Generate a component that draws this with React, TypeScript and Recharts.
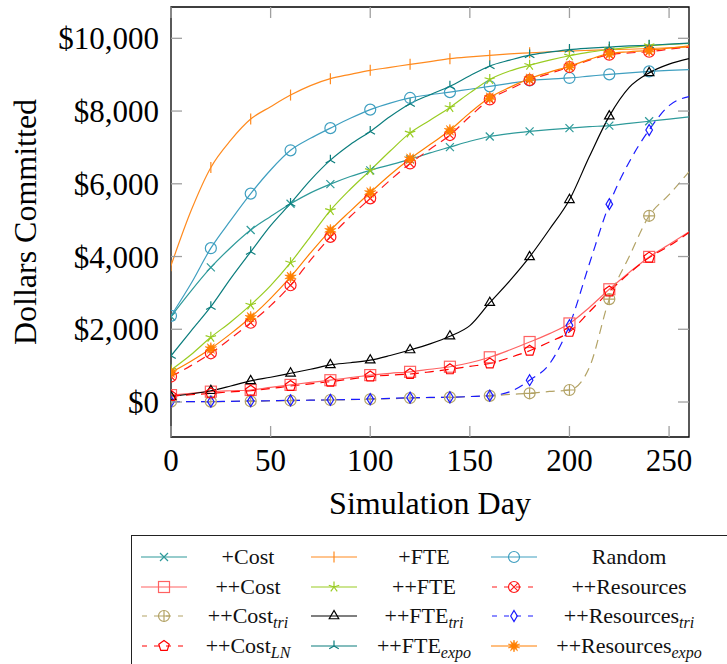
import React from "react";
import { LineChart, Line, XAxis, YAxis, ReferenceArea } from "recharts";

// simulation days (every 10 days)
const days = [0, 10, 20, 30, 40, 50, 60, 70, 80, 90, 100, 110, 120, 130, 140, 150, 160, 170, 180, 190, 200, 210, 220, 230, 240, 250, 260];

const plusCost = [2350, 3050, 3700, 4250, 4730, 5100, 5450, 5750, 5990, 6200, 6370, 6520, 6670, 6850, 7010, 7170, 7300, 7380, 7440, 7490, 7530, 7570, 7600, 7660, 7720, 7780, 7840];
const plusFte = [3750, 5250, 6450, 7200, 7780, 8120, 8440, 8700, 8890, 9010, 9120, 9200, 9285, 9360, 9440, 9490, 9530, 9570, 9600, 9630, 9650, 9670, 9690, 9700, 9720, 9740, 9760];
const random = [2370, 3250, 4230, 5000, 5730, 6380, 6920, 7250, 7530, 7800, 8040, 8220, 8360, 8450, 8520, 8600, 8680, 8760, 8840, 8880, 8910, 8960, 9010, 9050, 9090, 9120, 9140];
const ppCost = [190, 240, 285, 310, 330, 400, 470, 540, 600, 670, 740, 790, 830, 900, 970, 1080, 1230, 1430, 1650, 1880, 2160, 2600, 3100, 3560, 3990, 4330, 4680];
const ppFte = [880, 1300, 1780, 2200, 2670, 3200, 3830, 4550, 5270, 5850, 6370, 6900, 7400, 7750, 8100, 8500, 8870, 9100, 9260, 9400, 9520, 9620, 9690, 9750, 9800, 9830, 9860];
const ppRes = [700, 1000, 1340, 1750, 2180, 2650, 3210, 3900, 4540, 5100, 5600, 6100, 6560, 6950, 7340, 7850, 8320, 8600, 8850, 9030, 9210, 9400, 9550, 9600, 9630, 9700, 9760];
const ppCostTri = [10, 10, 10, 15, 20, 30, 40, 50, 55, 65, 75, 90, 110, 120, 130, 150, 170, 210, 240, 290, 330, 950, 2830, 4000, 5120, 5700, 6330];
const ppFteTri = [150, 220, 310, 440, 580, 680, 790, 900, 1020, 1080, 1150, 1280, 1430, 1600, 1810, 2100, 2730, 3330, 3990, 4750, 5560, 6750, 7860, 8650, 9050, 9290, 9440];
const ppResTri = [10, 10, 10, 20, 25, 35, 45, 50, 60, 70, 80, 100, 120, 125, 130, 150, 175, 280, 600, 1050, 2110, 3800, 5440, 6600, 7480, 8150, 8400];
const ppCostLN = [170, 200, 240, 280, 310, 370, 440, 500, 560, 630, 700, 740, 770, 830, 900, 980, 1060, 1220, 1410, 1650, 1930, 2480, 3040, 3540, 3970, 4290, 4660];
const ppFteExpo = [1270, 1950, 2620, 3400, 4130, 4850, 5460, 6100, 6650, 7080, 7440, 7850, 8200, 8450, 8680, 8970, 9240, 9400, 9540, 9620, 9690, 9730, 9760, 9790, 9810, 9840, 9870];
const ppResExpo = [810, 1120, 1470, 1880, 2330, 2850, 3440, 4100, 4720, 5250, 5760, 6250, 6690, 7080, 7470, 7950, 8370, 8650, 8890, 9070, 9230, 9420, 9580, 9630, 9670, 9730, 9790];

const xTicks = [0, 50, 100, 150, 200, 250];
const yTicks = [0, 2000, 4000, 6000, 8000, 10000];

type Mark =
  | "x" | "bar" | "circle" | "square" | "star" | "otimes" | "oplus"
  | "triangle" | "diamond" | "pentagon" | "mercedes" | "burst";

interface Series {
  key: string;
  label: string;
  sub?: string;
  values: number[];
  color: string;
  dashed: boolean;
  mark: Mark;
}

const series: Series[] = [
  { key: "plusCost", label: "+Cost", values: plusCost, color: "#2e9a9a", dashed: false, mark: "x" },
  { key: "plusFte", label: "+FTE", values: plusFte, color: "#ff8a1e", dashed: false, mark: "bar" },
  { key: "random", label: "Random", values: random, color: "#3f9fc0", dashed: false, mark: "circle" },
  { key: "ppCost", label: "++Cost", values: ppCost, color: "#ff6262", dashed: false, mark: "square" },
  { key: "ppFte", label: "++FTE", values: ppFte, color: "#99cc22", dashed: false, mark: "star" },
  { key: "ppRes", label: "++Resources", values: ppRes, color: "#ff1a1a", dashed: true, mark: "otimes" },
  { key: "ppCostTri", label: "++Cost", sub: "tri", values: ppCostTri, color: "#b3a366", dashed: true, mark: "oplus" },
  { key: "ppFteTri", label: "++FTE", sub: "tri", values: ppFteTri, color: "#000000", dashed: false, mark: "triangle" },
  { key: "ppResTri", label: "++Resources", sub: "tri", values: ppResTri, color: "#1a1aff", dashed: true, mark: "diamond" },
  { key: "ppCostLN", label: "++Cost", sub: "LN", values: ppCostLN, color: "#ff0000", dashed: true, mark: "pentagon" },
  { key: "ppFteExpo", label: "++FTE", sub: "expo", values: ppFteExpo, color: "#0b7d7d", dashed: false, mark: "mercedes" },
  { key: "ppResExpo", label: "++Resources", sub: "expo", values: ppResExpo, color: "#ff7f00", dashed: false, mark: "burst" },
];

const rows = days.map((day, i) => {
  const row: Record<string, number> = { day };
  series.forEach((s) => (row[s.key] = s.values[i]));
  return row;
});

const PLOT = { left: 171, right: 689, top: 7, bottom: 437 };
const TICK_LEN = 11;
const FONT = '"Liberation Serif", "Times New Roman", serif';
const DASH = "9 6";

const polar = (cx: number, cy: number, r: number, deg: number) => {
  const a = (deg * Math.PI) / 180;
  return [cx + r * Math.cos(a), cy - r * Math.sin(a)];
};

const spokes = (cx: number, cy: number, r: number, angles: number[]) =>
  angles.map((a) => {
    const [x, y] = polar(cx, cy, r, a);
    return `M${cx},${cy}L${x},${y}`;
  }).join("");

const polygon = (cx: number, cy: number, r: number, n: number) =>
  Array.from({ length: n }, (_, k) => polar(cx, cy, r, 90 + (360 / n) * k).join(",")).join(" ");

const MarkShape = ({ kind, cx, cy, color }: { kind: Mark; cx: number; cy: number; color: string }) => {
  const r = 5.5;
  const p = { stroke: color, strokeWidth: 1.2, fill: "none" };
  switch (kind) {
    case "x": {
      const d = 4;
      return <path d={`M${cx - d},${cy - d}L${cx + d},${cy + d}M${cx - d},${cy + d}L${cx + d},${cy - d}`} {...p} />;
    }
    case "bar":
      return <path d={`M${cx},${cy - r}L${cx},${cy + r}`} {...p} />;
    case "circle":
      return <circle cx={cx} cy={cy} r={r} {...p} />;
    case "square":
      return <rect x={cx - r} y={cy - r} width={2 * r} height={2 * r} {...p} />;
    case "star":
      return <path d={spokes(cx, cy, r, [90, 162, 234, 306, 18])} {...p} />;
    case "otimes": {
      const d = r * 0.707;
      return (
        <g {...p}>
          <circle cx={cx} cy={cy} r={r} />
          <path d={`M${cx - d},${cy - d}L${cx + d},${cy + d}M${cx - d},${cy + d}L${cx + d},${cy - d}`} />
        </g>
      );
    }
    case "oplus":
      return (
        <g {...p}>
          <circle cx={cx} cy={cy} r={r} />
          <path d={`M${cx - r},${cy}L${cx + r},${cy}M${cx},${cy - r}L${cx},${cy + r}`} />
        </g>
      );
    case "triangle":
      return <polygon points={polygon(cx, cy, r, 3)} {...p} />;
    case "diamond":
      return <polygon points={`${cx},${cy - r} ${cx + r * 0.6},${cy} ${cx},${cy + r} ${cx - r * 0.6},${cy}`} {...p} />;
    case "pentagon":
      return <polygon points={polygon(cx, cy, r, 5)} {...p} />;
    case "mercedes":
      return <path d={spokes(cx, cy, r, [90, 210, 330])} {...p} />;
    case "burst": {
      const pts = Array.from({ length: 20 }, (_, k) =>
        polar(cx, cy, k % 2 === 0 ? 6 : 2.6, 90 + 18 * k).join(",")
      ).join(" ");
      return <polygon points={pts} fill={color} stroke={color} strokeWidth={0.6} />;
    }
  }
  return null;
};

const XTick = (props: any) => {
  const { x, payload } = props;
  return (
    <g>
      <line x1={x} x2={x} y1={PLOT.bottom} y2={PLOT.bottom - TICK_LEN} stroke="#a0a0a0" strokeWidth={1.3} />
      <line x1={x} x2={x} y1={PLOT.top} y2={PLOT.top + TICK_LEN} stroke="#a0a0a0" strokeWidth={1.3} />
      <text x={x} y={471} textAnchor="middle" fontFamily={FONT} fontSize={31} fill="#000">
        {payload.value}
      </text>
    </g>
  );
};

const YTick = (props: any) => {
  const { y, payload } = props;
  return (
    <g>
      <line x1={PLOT.left} x2={PLOT.left + TICK_LEN} y1={y} y2={y} stroke="#a0a0a0" strokeWidth={1.3} />
      <line x1={PLOT.right} x2={PLOT.right - TICK_LEN} y1={y} y2={y} stroke="#a0a0a0" strokeWidth={1.3} />
      <text x={159} y={y + 11} textAnchor="end" fontFamily={FONT} fontSize={31} fill="#000">
        {`$${Number(payload.value).toLocaleString("en-US")}`}
      </text>
    </g>
  );
};

// legend layout (relative to the legend box)
const legendRows = [21, 51, 80, 110];
const legendSampleLeft = [9, 179, 359];
const legendTextCenter = [116, 292, 497];

const LegendBox = () => (
  <div
    style={{
      position: "absolute",
      left: 131,
      top: 535,
      width: 640,
      height: 150,
      borderTop: "1.3px solid #222",
      borderLeft: "1.3px solid #222",
      fontFamily: FONT,
      fontSize: 22,
      color: "#111",
    }}
  >
    {series.map((s, i) => {
      const row = Math.floor(i / 3);
      const col = i % 3;
      const cy = legendRows[row];
      return (
        <React.Fragment key={s.key}>
          <svg
            width={46}
            height={16}
            style={{ position: "absolute", left: legendSampleLeft[col], top: cy - 8, overflow: "visible" }}
          >
            <line x1={0} x2={46} y1={8} y2={8} stroke={s.color} strokeWidth={1.2} strokeDasharray={s.dashed ? "5 7" : undefined} strokeDashoffset={s.dashed ? -1 : 0} />
            <MarkShape kind={s.mark} cx={23} cy={8} color={s.color} />
          </svg>
          <div
            style={{
              position: "absolute",
              left: legendTextCenter[col] - 110,
              width: 220,
              top: cy - 15,
              height: 30,
              lineHeight: "30px",
              textAlign: "center",
              whiteSpace: "nowrap",
            }}
          >
            {s.label}
            {s.sub && (
              <span style={{ fontStyle: "italic", fontSize: 16, verticalAlign: "-5px" }}>{s.sub}</span>
            )}
          </div>
        </React.Fragment>
      );
    })}
  </div>
);

export default function App() {
  return (
    <div style={{ position: "absolute", left: 0, top: 0, width: 727, height: 664, background: "#fff", overflow: "hidden" }}>
      <LineChart width={727} height={530} data={rows} margin={{ top: 7, right: 38, left: 0, bottom: 0 }}>
        <XAxis
          type="number"
          dataKey="day"
          domain={[0, 260]}
          ticks={xTicks}
          interval={0}
          allowDataOverflow
          height={93}
          tickLine={false}
          axisLine={false}
          tickSize={0}
          tick={(p: any) => <XTick {...p} />}
          label={{ value: "Simulation Day", position: "insideBottom", offset: 16, fontSize: 32, fontFamily: FONT, fill: "#000" }}
        />
        <YAxis
          type="number"
          domain={[-962, 10861]}
          ticks={yTicks}
          interval={0}
          allowDataOverflow
          width={171}
          tickLine={false}
          axisLine={false}
          tickSize={0}
          tick={(p: any) => <YTick {...p} />}
        />
        {series.map((s) => (
          <Line
            key={s.key}
            dataKey={s.key}
            type="monotone"
            stroke={s.color}
            strokeWidth={1.2}
            strokeDasharray={s.dashed ? DASH : undefined}
            activeDot={false}
            isAnimationActive={false}
            dot={(p: any) => {
              const day = p.payload?.day;
              const show = day % 20 === 0 && day < 260;
              return (
                <g key={`${s.key}-${p.index}`}>
                  {show && <MarkShape kind={s.mark} cx={p.cx} cy={p.cy} color={s.color} />}
                </g>
              );
            }}
          />
        ))}
        <ReferenceArea x1={0} x2={260} y1={-962} y2={10861} fill="none" stroke="#000" strokeWidth={1.3} ifOverflow="visible" />
      </LineChart>
      <div
        style={{
          position: "absolute",
          left: 25,
          top: 222,
          transform: "translate(-50%, -50%) rotate(-90deg)",
          fontFamily: FONT,
          fontSize: 32,
          lineHeight: "32px",
          whiteSpace: "nowrap",
          color: "#000",
        }}
      >
        Dollars Committed
      </div>
      <LegendBox />
    </div>
  );
}
